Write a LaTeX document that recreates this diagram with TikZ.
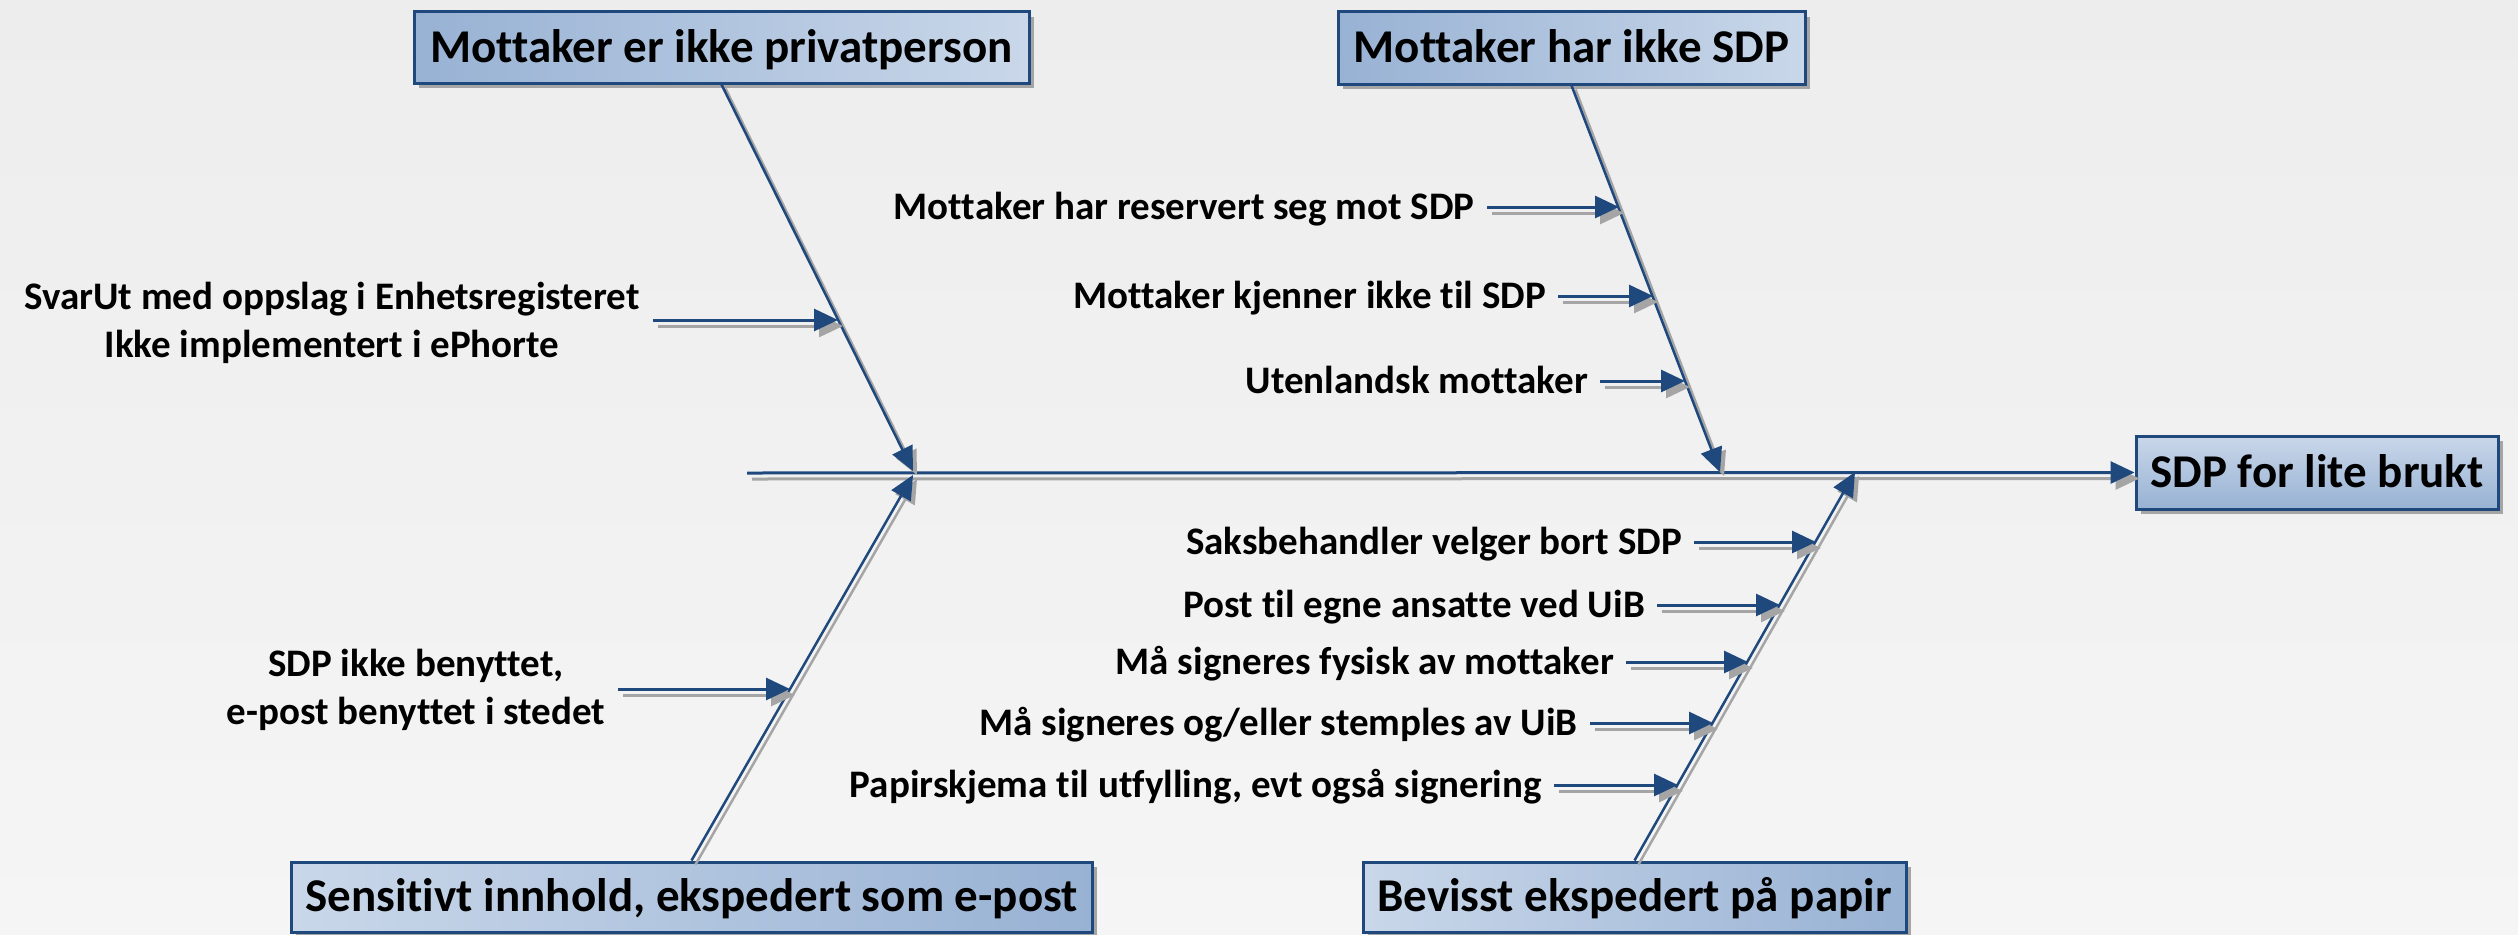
\documentclass[tikz,border=0pt]{standalone}
\usepackage{fontspec}
\setmainfont{Carlito}[Ligatures=NoCommon]
\usetikzlibrary{arrows.meta,shadows}
\definecolor{bgtop}{RGB}{237,237,237}
\definecolor{bgbot}{RGB}{245,245,245}
\definecolor{navy}{RGB}{31,73,125}
\definecolor{boxdark}{RGB}{152,178,212}
\definecolor{boxlight}{RGB}{201,215,233}
\definecolor{shad}{RGB}{165,165,165}
\tikzset{
  box/.style={draw=navy, line width=3pt, inner sep=0pt, text height=29.7pt, text depth=0pt,
    font=\fontsize{47}{56}\selectfont\bfseries,
    drop shadow={shadow xshift=5pt, shadow yshift=-5pt, fill=shad, opacity=1}},
  lbl/.style={inner ysep=0pt, inner xsep=12pt, text height=24.6pt, text depth=0pt,
    font=\fontsize{39}{48}\selectfont\bfseries},
  mlbl/.style={align=center, inner sep=0pt, font=\fontsize{39}{48}\selectfont\bfseries},
  tip/.style={-{Triangle[length=24pt,width=22pt]}},
  bone/.style={draw=navy, line width=2.5pt, tip,
    preaction={draw=shad, line width=2.5pt, tip, transform canvas={shift={(4pt,-4pt)}}}},
  rib/.style={draw=navy, line width=3pt, tip,
    preaction={draw=shad, line width=3pt, tip, transform canvas={shift={(5pt,-6pt)}}}},
}
\begin{document}
\begin{tikzpicture}[x=1pt,y=-1pt]
\useasboundingbox (0,0) rectangle (2518,934);
\fill[top color=bgtop, bottom color=bgbot] (0,0) rectangle (2518,934);

% category boxes
\node[box, minimum width=615pt, minimum height=71pt, left color=boxdark, right color=boxlight] (b1) at (721.5,47.5) {Mottaker er ikke privatperson};
\node[box, minimum width=467pt, minimum height=72pt, left color=boxdark, right color=boxlight] (b2) at (1571.5,48) {Mottaker har ikke SDP};
\node[box, minimum width=801pt, minimum height=70pt, left color=boxlight, right color=boxdark] (b3) at (691.5,897) {Sensitivt innhold, ekspedert som e-post};
\node[box, minimum width=543pt, minimum height=70pt, left color=boxlight, right color=boxdark] (b4) at (1634.5,897) {Bevisst ekspedert på papir};
\node[box, minimum width=362pt, minimum height=73pt, top color=boxlight, bottom color=boxdark] (b5) at (2317,472.5) {SDP for lite brukt};

% spine
\coordinate (s0) at (747,473);
\draw[rib] (s0) -- (b5.west);

% branch tips
\coordinate (t1) at (913,471);
\coordinate (t2) at (1720,472);
\coordinate (t3) at (913,475);
\coordinate (t4) at (1855,472);
\draw[bone] (b1.south) -- (t1);
\draw[bone] (b2.south) -- (t2);
\draw[bone] (b3.north) -- (t3);
\draw[bone] (b4.north) -- (t4);

% rib tips
\coordinate (p1) at (838,320);
\coordinate (p2) at (790,689);
\coordinate (p3) at (1619,207);
\coordinate (p4) at (1653,296);
\coordinate (p5) at (1685,381);
\coordinate (p6) at (1816,542);
\coordinate (p7) at (1780,605);
\coordinate (p8) at (1748,662);
\coordinate (p9) at (1713,723);
\coordinate (p10) at (1678,785);

% labels
\node[mlbl] (l1) at (332,323) {SvarUt med oppslag i Enhetsregisteret\\Ikke implementert i ePhorte};
\coordinate (a1) at (653,320);
\node[mlbl] (l2) at (416,690) {SDP ikke benyttet,\\e-post benyttet i stedet};
\coordinate (a2) at (618,689);
\node[lbl, anchor=east] (l3) at (1487,207) {Mottaker har reservert seg mot SDP};
\node[lbl, anchor=east] (l4) at (1558,296) {Mottaker kjenner ikke til SDP};
\node[lbl, anchor=east] (l5) at (1600,381) {Utenlandsk mottaker};
\node[lbl, anchor=east] (l6) at (1694,542) {Saksbehandler velger bort SDP};
\node[lbl, anchor=east] (l7) at (1657,605) {Post til egne ansatte ved UiB};
\node[lbl, anchor=east] (l8) at (1626,662) {Må signeres fysisk av mottaker};
\node[lbl, anchor=east] (l9) at (1590,723) {Må signeres og/eller stemples av UiB};
\node[lbl, anchor=east] (l10) at (1554,785) {Papirskjema til utfylling, evt også signering};

\draw[rib] (a1) -- (p1);
\draw[rib] (a2) -- (p2);
\draw[rib] (l3.east) -- (p3);
\draw[rib] (l4.east) -- (p4);
\draw[rib] (l5.east) -- (p5);
\draw[rib] (l6.east) -- (p6);
\draw[rib] (l7.east) -- (p7);
\draw[rib] (l8.east) -- (p8);
\draw[rib] (l9.east) -- (p9);
\draw[rib] (l10.east) -- (p10);
\end{tikzpicture}
\end{document}
